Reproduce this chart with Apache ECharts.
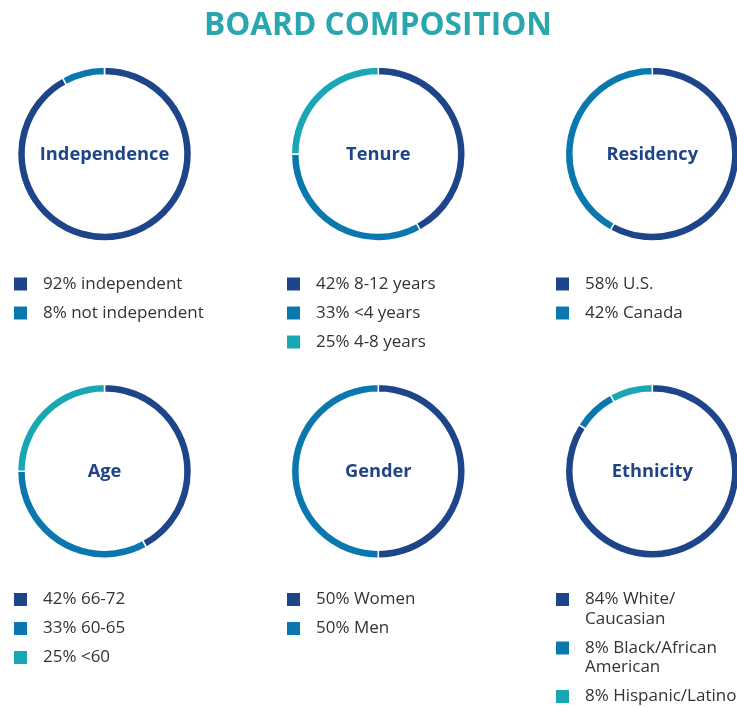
<!DOCTYPE html>
<html><head><meta charset="utf-8">
<script src="https://cdn.jsdelivr.net/npm/echarts@6/dist/echarts.min.js"></script>
<style>html,body{margin:0;padding:0;background:#fff}#c{width:737px;height:707px}</style>
</head><body><div id="c"></div>
<script>
const chartTitle = 'BOARD COMPOSITION';
const panelTitles = ['Independence', 'Tenure', 'Residency', 'Age', 'Gender', 'Ethnicity'];
const independenceLabels = ['92% independent', '8% not independent'];
const independenceValues = [92, 8];
const tenureLabels = ['42% 8-12 years', '33% <4 years', '25% 4-8 years'];
const tenureValues = [42, 33, 25];
const residencyLabels = ['58% U.S.', '42% Canada'];
const residencyValues = [58, 42];
const ageLabels = ['42% 66-72', '33% 60-65', '25% <60'];
const ageValues = [42, 33, 25];
const genderLabels = ['50% Women', '50% Men'];
const genderValues = [50, 50];
const ethnicityLabels = ['84% White/\nCaucasian', '8% Black/African\nAmerican', '8% Hispanic/Latino'];
const ethnicityValues = [84, 8, 8];

const colors = ['#1e4589', '#0a78ae', '#19a7b4'];
const panels = [
  {labels: independenceLabels, values: independenceValues},
  {labels: tenureLabels, values: tenureValues},
  {labels: residencyLabels, values: residencyValues},
  {labels: ageLabels, values: ageValues},
  {labels: genderLabels, values: genderValues},
  {labels: ethnicityLabels, values: ethnicityValues}
];
const cx = [104.5, 378.3, 652.3];
const cy = [154, 471.2];
const legX = [12, 285, 554];
const legY = [284, 599.5];
const LH = 19.5, STEP = 29;

const series = [], legends = [], graphics = [];
graphics.push({type:'text', x:378, y:26, style:{text:chartTitle, fill:'#2aa6ae', font:'bold 31.6px "Open Sans"', textAlign:'center', textVerticalAlign:'middle'}});
panels.forEach((p, i) => {
  const col = i % 3, row = Math.floor(i / 3);
  series.push({
    type:'pie', center:[cx[col], cy[row]], radius:[79, 87], startAngle:90, clockwise:true,
    silent:true, label:{show:false}, labelLine:{show:false},
    itemStyle:{borderColor:'#fff', borderWidth:1.5},
    data: p.values.map((v, k) => ({name:p.labels[k], value:v, itemStyle:{color:colors[k]}}))
  });
  let c = legY[row];
  p.labels.forEach((lab) => {
    const n = lab.split('\n').length;
    const H = Math.max(15, (2 * n - 1) * LH);
    legends.push({
      data:[lab], orient:'vertical', left:legX[col], top:c - H / 2, padding:0,
      itemWidth:15, itemHeight:15, itemGap:0, icon:'rect', selectedMode:false,
      formatter: (name) => '\n'.repeat(n - 1) + name,
      textStyle:{fontSize:17, color:'#333', fontFamily:'Open Sans', lineHeight:LH, padding:[0,0,0,10]}
    });
    c += STEP + (n - 1) * LH;
  });
  graphics.push({type:'text', x:cx[col], y:cy[row] + 1, style:{text:panelTitles[i], fill:'#1f4487', font:'bold 18.3px "Open Sans"', textAlign:'center', textVerticalAlign:'middle'}});
});
const chart = echarts.init(document.getElementById('c'));
chart.setOption({animation:false, color:colors, legend:legends, series:series, graphic:graphics});
</script></body></html>
